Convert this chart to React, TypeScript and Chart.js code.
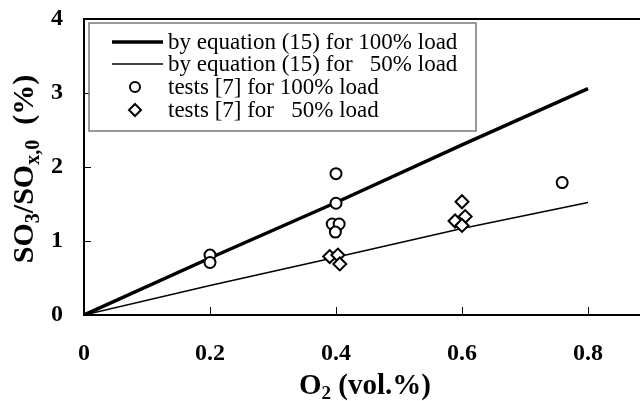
import React, { useEffect, useRef } from 'react';
import { Chart, registerables } from 'chart.js';

Chart.register(...registerables);

// O2 concentration (vol.%) at which the model curves are evaluated
const o2Line = [0, 0.2, 0.4, 0.6, 0.8];
// SO3/SOx,0 (%) from equation (15)
const eqFull = [0, 0.77, 1.52, 2.3, 3.06];
const eqHalf = [0, 0.4, 0.78, 1.17, 1.52];

// measured points, tests [7]
const testFullO2 = [0.2, 0.2, 0.4, 0.4, 0.394, 0.405, 0.399, 0.759];
const testFullSO3 = [0.81, 0.71, 1.91, 1.51, 1.23, 1.23, 1.12, 1.79];
const testHalfO2 = [0.39, 0.403, 0.406, 0.6, 0.589, 0.605, 0.6];
const testHalfSO3 = [0.79, 0.81, 0.69, 1.53, 1.27, 1.33, 1.21];

const xTicks = [0, 0.2, 0.4, 0.6, 0.8];
const yTicks = [0, 1, 2, 3, 4];

const seriesLabels = [
  'by equation (15) for 100% load',
  'by equation (15) for   50% load',
  'tests [7] for 100% load',
  'tests [7] for   50% load',
];

const SERIF = '"Liberation Serif", "Times New Roman", serif';

type Part = { t: string; sub?: boolean };

function drawRich(
  ctx: CanvasRenderingContext2D,
  parts: Part[],
  cx: number,
  cy: number,
  rotate: boolean,
  size: number
) {
  const mainFont = `bold ${size}px ${SERIF}`;
  const subFont = `bold ${Math.round(size * 0.65)}px ${SERIF}`;
  let total = 0;
  const widths = parts.map((p) => {
    ctx.font = p.sub ? subFont : mainFont;
    const w = ctx.measureText(p.t).width;
    total += w;
    return w;
  });
  ctx.save();
  ctx.translate(cx, cy);
  if (rotate) ctx.rotate(-Math.PI / 2);
  ctx.fillStyle = '#000';
  ctx.textBaseline = 'alphabetic';
  ctx.textAlign = 'left';
  let x = -total / 2;
  const base = size * 0.33;
  parts.forEach((p, i) => {
    ctx.font = p.sub ? subFont : mainFont;
    ctx.fillText(p.t, x, p.sub ? base + size * 0.2 : base);
    x += widths[i];
  });
  ctx.restore();
}

const framePlugin = {
  id: 'frame',
  afterDraw(chart: any) {
    const { ctx, chartArea: a, scales } = chart;
    const xs = scales.x;
    const ys = scales.y;
    ctx.save();
    ctx.strokeStyle = '#000';

    // top and right edges of the plot frame
    ctx.lineWidth = 2;
    ctx.beginPath();
    ctx.moveTo(a.left, a.top);
    ctx.lineTo(a.right, a.top);
    ctx.lineTo(a.right, a.bottom);
    ctx.stroke();

    // short inward tick marks
    ctx.lineWidth = 1;
    ctx.beginPath();
    yTicks.slice(1, -1).forEach((v) => {
      const py = Math.round(ys.getPixelForValue(v)) + 0.5;
      ctx.moveTo(a.left, py);
      ctx.lineTo(a.left + 7, py);
    });
    xTicks.slice(1).forEach((v) => {
      const px = Math.round(xs.getPixelForValue(v)) + 0.5;
      ctx.moveTo(px, a.bottom);
      ctx.lineTo(px, a.bottom - 8);
    });
    ctx.stroke();

    // legend box
    const bx = 89, by = 23, bw = 387, bh = 108;
    ctx.fillStyle = '#fff';
    ctx.fillRect(bx, by, bw, bh);
    ctx.strokeStyle = '#777';
    ctx.lineWidth = 1.5;
    ctx.strokeRect(bx, by, bw, bh);

    const rows = [42, 64, 87, 110];
    const sx0 = 112, sx1 = 163, mx = 135, tx = 168;
    const ds = chart.data.datasets;
    ctx.strokeStyle = '#000';
    rows.forEach((ry, i) => {
      const d = ds[i];
      if (i < 2) {
        ctx.lineWidth = d.borderWidth;
        ctx.beginPath();
        ctx.moveTo(sx0, ry);
        ctx.lineTo(sx1, ry);
        ctx.stroke();
      } else if (d.pointStyle === 'circle') {
        ctx.lineWidth = 2;
        ctx.beginPath();
        ctx.arc(mx, ry, 5, 0, Math.PI * 2);
        ctx.fillStyle = '#fff';
        ctx.fill();
        ctx.stroke();
      } else {
        const r = 6;
        ctx.lineWidth = 2;
        ctx.beginPath();
        ctx.moveTo(mx, ry - r);
        ctx.lineTo(mx + r, ry);
        ctx.lineTo(mx, ry + r);
        ctx.lineTo(mx - r, ry);
        ctx.closePath();
        ctx.fillStyle = '#fff';
        ctx.fill();
        ctx.stroke();
      }
      ctx.fillStyle = '#000';
      ctx.font = `23px ${SERIF}`;
      ctx.textBaseline = 'middle';
      ctx.textAlign = 'left';
      ctx.fillText(d.label, tx, ry + 1);
    });

    // axis titles with subscripts
    drawRich(
      ctx,
      [{ t: 'O' }, { t: '2', sub: true }, { t: ' (vol.%)' }],
      365,
      384,
      false,
      29
    );
    drawRich(
      ctx,
      [{ t: 'SO' }, { t: '3', sub: true }, { t: '/SO' }, { t: 'x,0', sub: true }, { t: '  (%)' }],
      23,
      169,
      true,
      30
    );
    ctx.restore();
  },
};

export default function App() {
  const ref = useRef<HTMLCanvasElement | null>(null);

  useEffect(() => {
    if (!ref.current) return;
    const chart = new Chart(ref.current, {
      type: 'scatter',
      data: {
        datasets: [
          {
            type: 'line',
            label: seriesLabels[0],
            data: o2Line.map((x, i) => ({ x, y: eqFull[i] })),
            borderColor: '#000',
            borderWidth: 3.5,
            pointRadius: 0,
            fill: false,
            order: 2,
          },
          {
            type: 'line',
            label: seriesLabels[1],
            data: o2Line.map((x, i) => ({ x, y: eqHalf[i] })),
            borderColor: '#000',
            borderWidth: 1.5,
            pointRadius: 0,
            fill: false,
            order: 2,
          },
          {
            label: seriesLabels[2],
            data: testFullO2.map((x, i) => ({ x, y: testFullSO3[i] })),
            pointStyle: 'circle',
            pointRadius: 5.5,
            borderWidth: 2,
            borderColor: '#000',
            backgroundColor: '#fff',
            order: 1,
          },
          {
            label: seriesLabels[3],
            data: testHalfO2.map((x, i) => ({ x, y: testHalfSO3[i] })),
            pointStyle: 'rectRot',
            pointRadius: 6.5,
            borderWidth: 2,
            borderColor: '#000',
            backgroundColor: '#fff',
            order: 0,
          },
        ],
      },
      options: {
        animation: false,
        responsive: false,
        devicePixelRatio: 1,
        layout: { padding: { left: 0, top: 19, right: 29, bottom: 0 } },
        plugins: {
          legend: { display: false },
          tooltip: { enabled: false },
        },
        scales: {
          x: {
            type: 'linear',
            min: 0,
            max: 0.9,
            afterBuildTicks: (s: any) => {
              s.ticks = xTicks.map((value) => ({ value }));
            },
            afterFit: (s: any) => {
              s.height = 86;
              s.paddingLeft = 0;
              s.paddingRight = 0;
            },
            grid: { display: false, drawTicks: false },
            border: { display: true, color: '#000', width: 2 },
            ticks: {
              color: '#000',
              padding: 24,
              font: { family: SERIF, size: 24, weight: 'bold' },
              callback: (v: any) => String(v),
            },
          },
          y: {
            type: 'linear',
            min: 0,
            max: 4,
            afterBuildTicks: (s: any) => {
              s.ticks = yTicks.map((value) => ({ value }));
            },
            afterFit: (s: any) => {
              s.width = 84;
              s.paddingTop = 0;
              s.paddingBottom = 0;
            },
            grid: { display: false, drawTicks: false },
            border: { display: true, color: '#000', width: 2 },
            ticks: {
              color: '#000',
              padding: 21,
              font: { family: SERIF, size: 24, weight: 'bold' },
              callback: (v: any) => String(v),
            },
          },
        },
      },
      plugins: [framePlugin],
    });
    return () => chart.destroy();
  }, []);

  return (
    <div
      style={{
        position: 'fixed',
        left: 0,
        top: 0,
        width: 640,
        height: 401,
        overflow: 'hidden',
        background: '#fff',
      }}
    >
      <canvas ref={ref} width={680} height={401} style={{ display: 'block' }} />
    </div>
  );
}
